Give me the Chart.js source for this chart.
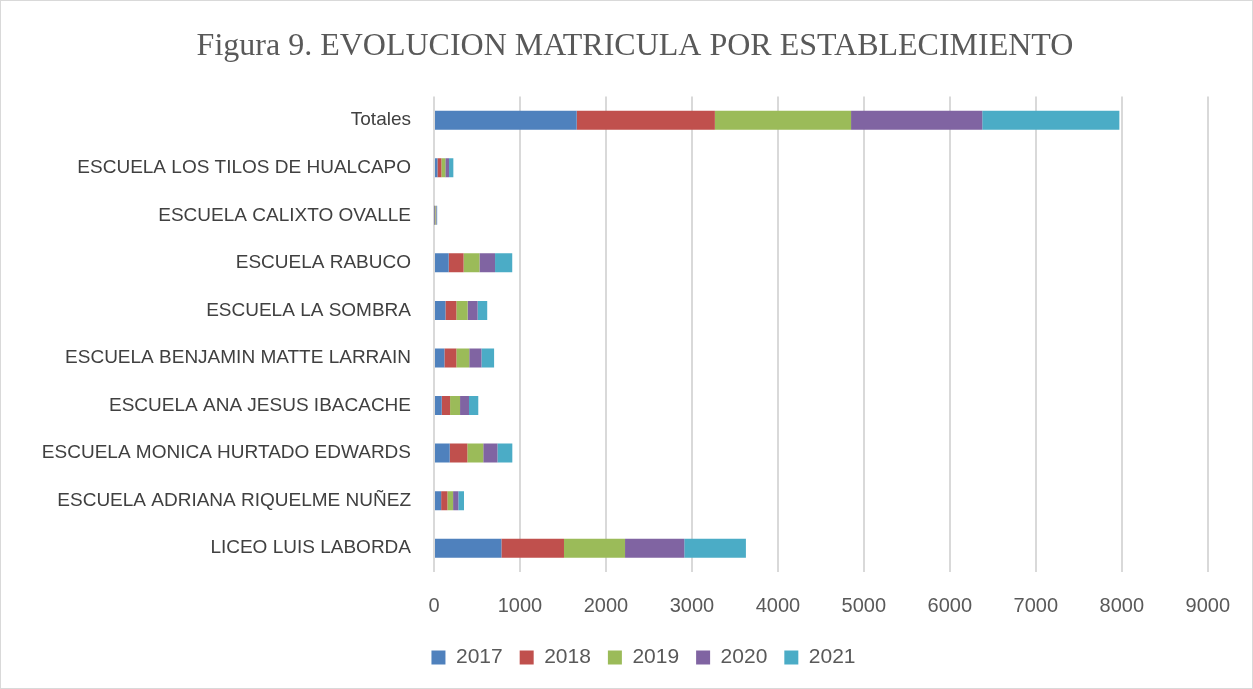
<!DOCTYPE html>
<html>
<head>
<meta charset="utf-8">
<script src="https://cdn.jsdelivr.net/npm/chart.js@4"></script>
<style>
html,body{margin:0;padding:0;background:#fff;}
#wrap{position:absolute;left:0;top:0;width:1251px;height:687px;border:1px solid #d9d9d9;}
canvas{display:block;}
</style>
</head>
<body>
<div id="wrap"><canvas id="c" width="1251" height="687"></canvas></div>
<script>
const categories = [
  "Totales",
  "ESCUELA LOS TILOS DE HUALCAPO",
  "ESCUELA CALIXTO OVALLE",
  "ESCUELA RABUCO",
  "ESCUELA LA SOMBRA",
  "ESCUELA BENJAMIN MATTE LARRAIN",
  "ESCUELA ANA JESUS IBACACHE",
  "ESCUELA MONICA HURTADO EDWARDS",
  "ESCUELA ADRIANA RIQUELME NUÑEZ",
  "LICEO LUIS LABORDA"
];
const years = ["2017","2018","2019","2020","2021"];
const v2017 = [1660, 40, 5, 171, 133, 121, 90, 183, 83, 784];
const v2018 = [1607, 46, 8, 173, 127, 139, 97, 205, 73, 728];
const v2019 = [1584, 46, 8, 185, 131, 150, 116, 185, 66, 710];
const v2020 = [1526, 43, 8, 181, 116, 142, 104, 165, 61, 689];
const v2021 = [1595, 50, 8, 200, 112, 147, 108, 173, 66, 717];
const colors = ["#4F81BD","#C0504D","#9BBB59","#8064A2","#4BACC6"];
const series = [v2017, v2018, v2019, v2020, v2021];

const datasets = years.map((y,i)=>({
  label: y,
  data: series[i],
  backgroundColor: colors[i],
  borderWidth: 0,
  barPercentage: 0.4,
  categoryPercentage: 1.0
}));

const shiftBlocks = {
  id: 'shiftBlocks',
  afterLayout(chart) {
    if (chart.titleBlock) chart.titleBlock.left += 44;
    if (chart.legend) chart.legend.left += 61;
  }
};

new Chart(document.getElementById('c'), {
  type: 'bar',
  data: { labels: categories, datasets },
  plugins: [shiftBlocks],
  options: {
    indexAxis: 'y',
    responsive: false,
    animation: false,
    layout: { padding: { left: 10, right: 37, top: 10, bottom: 10 } },
    plugins: {
      title: {
        display: true,
        text: 'Figura 9. EVOLUCION MATRICULA POR ESTABLECIMIENTO',
        color: '#595959',
        font: { family: 'Liberation Serif', size: 32, weight: 'normal' },
        padding: { top: 16, bottom: 31 }
      },
      legend: {
        position: 'bottom',
        labels: {
          color: '#595959',
          font: { family: 'Liberation Sans', size: 21 },
          boxWidth: 14, boxHeight: 14,
          padding: 17
        }
      },
      tooltip: { enabled: false }
    },
    scales: {
      x: {
        stacked: true,
        min: 0, max: 9000,
        ticks: { stepSize: 1000, color: '#595959', font: { family: 'Liberation Sans', size: 20 }, padding: 22,
                 callback: (v) => String(v) },
        grid: { color: '#d9d9d9', lineWidth: 2, drawTicks: false },
        border: { display: false },
        afterFit: (s) => { s.height -= 10; }
      },
      y: {
        stacked: true,
        ticks: { color: '#404040', font: { family: 'Liberation Sans', size: 19 }, padding: 23 },
        grid: { display: false, drawTicks: false },
        border: { display: false },
        afterFit: (s) => { s.width = 423; }
      }
    }
  }
});
</script>
</body>
</html>
